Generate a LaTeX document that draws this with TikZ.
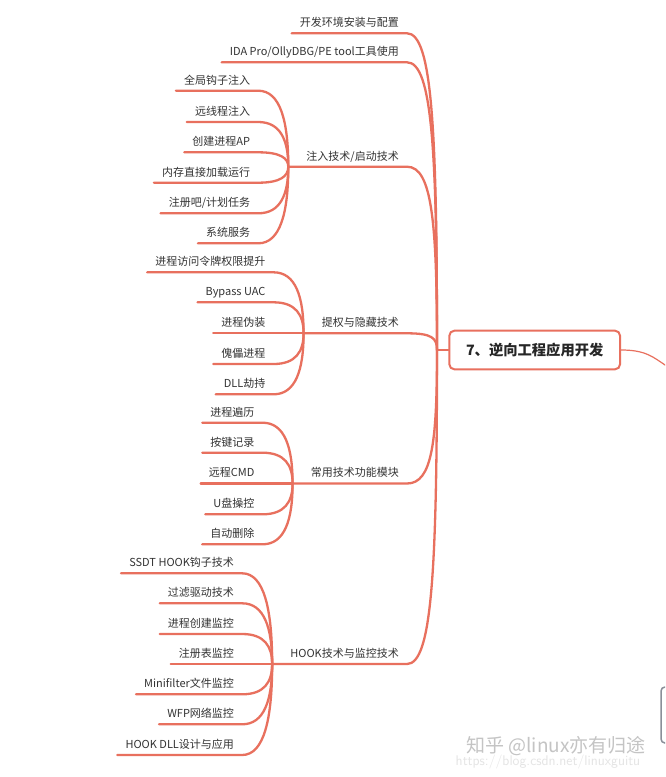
\documentclass[tikz,border=0pt]{standalone}
\usepackage{fontspec}
\newfontfamily\cjk{Noto Sans CJK SC}
\usetikzlibrary{calc}
\definecolor{br}{RGB}{232,112,94}
\definecolor{txt}{RGB}{51,51,51}
\definecolor{wm}{RGB}{196,196,196}
\definecolor{wm2}{RGB}{228,228,228}
\definecolor{gbox}{RGB}{138,143,153}
\begin{document}
\begin{tikzpicture}[x=1pt,y=1pt,
  lbl/.style={font=\cjk\fontsize{11}{13}\selectfont, text=txt, inner xsep=8pt, inner ysep=4.5pt, text height=8.5pt, text depth=2pt, anchor=south east},
  bline/.style={draw=br, line width=2.3pt, line cap=round},
  rootbox/.style={draw=br, line width=2pt, rounded corners=5pt, fill=white, minimum width=170.7pt, minimum height=38.6pt, inner sep=0pt, font=\cjk\bfseries\fontsize{14.3}{16}\selectfont, text=black!85}]
\useasboundingbox (0,0) rectangle (665,-777);
\clip (0,0) rectangle (665,-777);
\fill[white] (0,0) rectangle (665,-777);

% watermark
\node[font=\sffamily\fontsize{14}{16}\selectfont, text=wm2, inner sep=0pt] (w2) at (548,-762) {https://blog.csdn.net/linuxguitu};
\node[font=\cjk\fontsize{19}{21}\selectfont, text=wm, inner sep=0pt] (w1) at (556,-746) {知乎 @linux亦有归途};

% partial box at the right edge
\draw[draw=gbox, line width=1.5pt, rounded corners=4pt] (661,-687) rectangle (700,-743);

% root
\node[rootbox] (root) at (534.7,-350) {7、逆向工程应用开发};
\coordinate (t) at (437,-350);
\coordinate (off) at (668,-367);
\draw[bline] (root.west) -- (t);
\draw[draw=br, line width=1.2pt] (root.east) .. controls +(25,0) and +(-15,10) .. (off);

% level 1
\node[lbl] (n1) at (407,-33.3) {开发环境安装与配置};
\node[lbl] (n2) at (407,-62.3) {IDA Pro/OllyDBG/PE tool工具使用};
\node[lbl] (n3) at (407,-166.7) {注入技术/启动技术};
\node[lbl] (n4) at (407,-333.3) {提权与隐藏技术};
\node[lbl] (n5) at (407,-483.5) {常用技术功能模块};
\node[lbl] (n6) at (407,-664) {HOOK技术与监控技术};

\coordinate (h3) at ([xshift=-10pt]n3.south west);
\coordinate (h4) at ([xshift=-10pt]n4.south west);
\coordinate (h5) at ([xshift=-10pt]n5.south west);
\coordinate (h6) at ([xshift=-10pt]n6.south west);
\coordinate (c3) at ([xshift=-30pt]h3);
\coordinate (c4) at ([xshift=-30pt]h4);
\coordinate (c5) at ([xshift=-30pt]h5);
\coordinate (c6) at ([xshift=-30pt]h6);

\draw[bline] (n1.south west) -- (n1.south east) .. controls +(25,0) and +(0,222) .. (t);
\draw[bline] (n2.south west) -- (n2.south east) .. controls +(25,0) and +(0,201) .. (t);
\draw[bline] (h3) -- (n3.south east) .. controls +(25,0) and +(0,128) .. (t);
\draw[bline] (h4) -- (n4.south east) .. controls +(25,0) and +(0,12) .. (t);
\draw[bline] (h5) -- (n5.south east) .. controls +(25,0) and +(0,-93) .. (t);
\draw[bline] (h6) -- (n6.south east) .. controls +(25,0) and +(0,-220) .. (t);

% children of n3
\node[lbl] (a1) at (c3 |- 0,-90.7) {全局钩子注入};
\node[lbl] (a2) at (c3 |- 0,-122) {远线程注入};
\node[lbl] (a3) at (c3 |- 0,-152.3) {创建进程AP};
\node[lbl] (a4) at (c3 |- 0,-182.7) {内存直接加载运行};
\node[lbl] (a5) at (c3 |- 0,-213.3) {注册吧/计划任务};
\node[lbl] (a6) at (c3 |- 0,-243.3) {系统服务};
\draw[bline] (a1.south west) -- (a1.south east) .. controls +(22,0) and +(0,45.6) .. (h3);
\draw[bline] (a2.south west) -- (a2.south east) .. controls +(22,0) and +(0,26.8) .. (h3);
\draw[bline] (a3.south west) -- (a3.south east) .. controls +(22,0) and +(0,8.6) .. (h3);
\draw[bline] (a4.south west) -- (a4.south east) .. controls +(22,0) and +(0,-9.6) .. (h3);
\draw[bline] (a5.south west) -- (a5.south east) .. controls +(22,0) and +(0,-28) .. (h3);
\draw[bline] (a6.south west) -- (a6.south east) .. controls +(22,0) and +(0,-46) .. (h3);

% children of n4
\node[lbl] (b1) at (c4 |- 0,-272.3) {进程访问令牌权限提升};
\node[lbl] (b2) at (c4 |- 0,-302.3) {Bypass UAC};
\node[lbl] (b3) at (c4 |- h4) {进程伪装};
\node[lbl] (b4) at (c4 |- 0,-364) {傀儡进程};
\node[lbl] (b5) at (c4 |- 0,-394.3) {DLL劫持};
\draw[bline] (b1.south west) -- (b1.south east) .. controls +(22,0) and +(0,36.6) .. (h4);
\draw[bline] (b2.south west) -- (b2.south east) .. controls +(22,0) and +(0,18.6) .. (h4);
\draw[bline] (b3.south west) -- (h4);
\draw[bline] (b4.south west) -- (b4.south east) .. controls +(22,0) and +(0,-18.4) .. (h4);
\draw[bline] (b5.south west) -- (b5.south east) .. controls +(22,0) and +(0,-36.6) .. (h4);

% children of n5
\node[lbl] (d1) at (c5 |- 0,-422.7) {进程遍历};
\node[lbl] (d2) at (c5 |- 0,-452.7) {按键记录};
\node[lbl] (d3) at (c5 |- h5) {远程CMD};
\node[lbl] (d4) at (c5 |- 0,-514.3) {U盘操控};
\node[lbl] (d5) at (c5 |- 0,-544.3) {自动删除};
\draw[bline] (d1.south west) -- (d1.south east) .. controls +(22,0) and +(0,36.5) .. (h5);
\draw[bline] (d2.south west) -- (d2.south east) .. controls +(22,0) and +(0,18.5) .. (h5);
\draw[bline] (d3.south west) -- (h5);
\draw[bline] (d4.south west) -- (d4.south east) .. controls +(22,0) and +(0,-18.5) .. (h5);
\draw[bline] (d5.south west) -- (d5.south east) .. controls +(22,0) and +(0,-36.5) .. (h5);

% children of n6
\node[lbl] (e1) at (c6 |- 0,-573.3) {SSDT HOOK钩子技术};
\node[lbl] (e2) at (c6 |- 0,-603.3) {过滤驱动技术};
\node[lbl] (e3) at (c6 |- 0,-634) {进程创建监控};
\node[lbl] (e4) at (c6 |- h6) {注册表监控};
\node[lbl] (e5) at (c6 |- 0,-694.3) {Minifilter文件监控};
\node[lbl] (e6) at (c6 |- 0,-724.3) {WFP网络监控};
\node[lbl] (e7) at (c6 |- 0,-755) {HOOK DLL设计与应用};
\draw[bline] (e1.south west) -- (e1.south east) .. controls +(22,0) and +(0,54.4) .. (h6);
\draw[bline] (e2.south west) -- (e2.south east) .. controls +(22,0) and +(0,36.4) .. (h6);
\draw[bline] (e3.south west) -- (e3.south east) .. controls +(22,0) and +(0,18) .. (h6);
\draw[bline] (e4.south west) -- (h6);
\draw[bline] (e5.south west) -- (e5.south east) .. controls +(22,0) and +(0,-18.2) .. (h6);
\draw[bline] (e6.south west) -- (e6.south east) .. controls +(22,0) and +(0,-36.2) .. (h6);
\draw[bline] (e7.south west) -- (e7.south east) .. controls +(22,0) and +(0,-54.6) .. (h6);
\end{tikzpicture}
\end{document}
